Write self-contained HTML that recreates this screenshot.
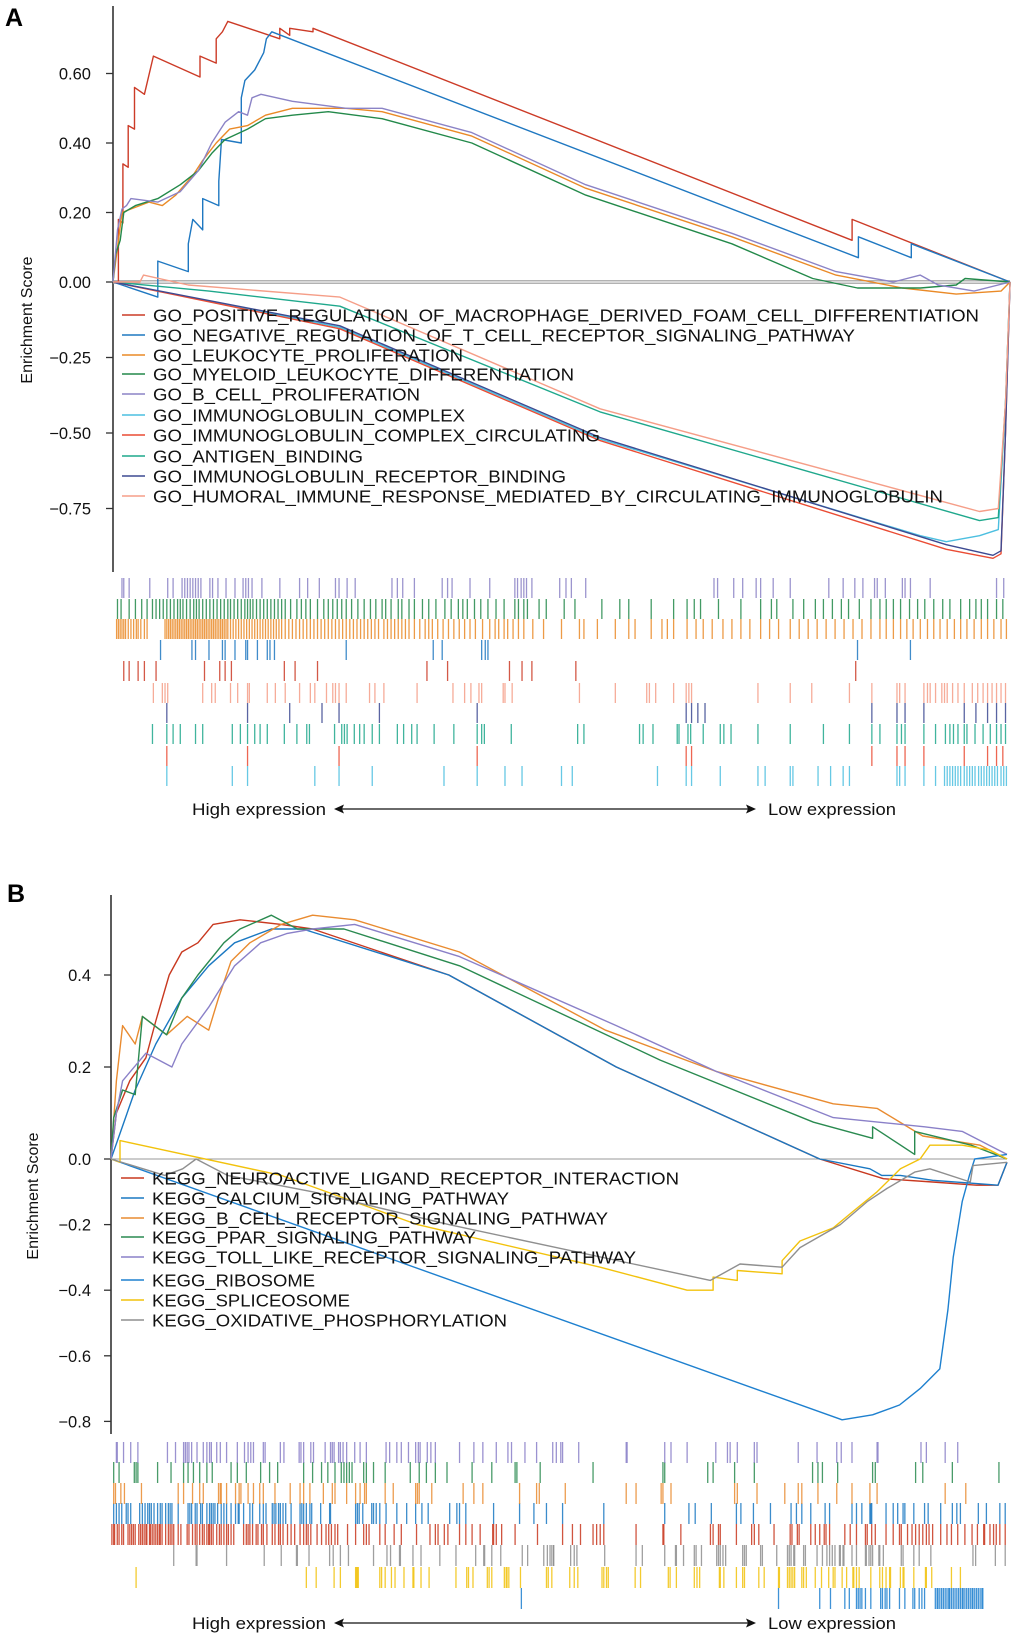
<!DOCTYPE html>
<html><head><meta charset="utf-8"><style>
html,body{margin:0;padding:0;background:#fff}
svg{display:block;font-family:"Liberation Sans",Arial,sans-serif}
</style></head><body>
<svg id="fig" width="1020" height="1643" viewBox="0 0 1020 1643" xmlns="http://www.w3.org/2000/svg">
<g id="panelA"></g>
<g id="panelB"></g>
</svg>
<script>
// ---------- Panel A data ----------
const ticksA = [0.6, 0.4, 0.2, 0, -0.25, -0.5, -0.75];
const tickLabelsA = ["0.60", "0.40", "0.20", "0.00", "\u22120.25", "\u22120.50", "\u22120.75"];
const namesA = ["GO_POSITIVE_REGULATION_OF_MACROPHAGE_DERIVED_FOAM_CELL_DIFFERENTIATION","GO_NEGATIVE_REGULATION_OF_T_CELL_RECEPTOR_SIGNALING_PATHWAY","GO_LEUKOCYTE_PROLIFERATION","GO_MYELOID_LEUKOCYTE_DIFFERENTIATION","GO_B_CELL_PROLIFERATION","GO_IMMUNOGLOBULIN_COMPLEX","GO_IMMUNOGLOBULIN_COMPLEX_CIRCULATING","GO_ANTIGEN_BINDING","GO_IMMUNOGLOBULIN_RECEPTOR_BINDING","GO_HUMORAL_IMMUNE_RESPONSE_MEDIATED_BY_CIRCULATING_IMMUNOGLOBULIN"];
const esFoam = [[0,0],[6,0],[6,0.18],[11,0.17],[11,0.34],[17,0.33],[17,0.45],[24,0.44],[24,0.56],[35,0.54],[45,0.65],[97,0.59],[97,0.65],[115,0.63],[115,0.70],[122,0.72],[128,0.75],[186,0.70],[186,0.73],[197,0.71],[197,0.73],[223,0.72],[223,0.73],[824,0.12],[824,0.18],[1000,0]];
const esNegT = [[0,0],[50,-0.05],[50,0.06],[84,0.03],[84,0.11],[89,0.18],[100,0.15],[100,0.24],[118,0.22],[118,0.29],[121,0.41],[143,0.40],[143,0.53],[147,0.58],[158,0.61],[168,0.66],[171,0.70],[177,0.72],[831,0.07],[831,0.13],[890,0.07],[890,0.11],[1000,0]];
const esLeuk = [[0,0],[5,0.1],[10,0.2],[20,0.21],[40,0.23],[55,0.22],[70,0.25],[90,0.31],[100,0.35],[115,0.40],[130,0.44],[150,0.45],[170,0.48],[200,0.50],[260,0.50],[300,0.49],[400,0.42],[527,0.27],[690,0.13],[806,0.02],[880,-0.02],[940,-0.04],[990,-0.03],[1000,0]];
const esMyel = [[0,0],[3,0.08],[8,0.12],[12,0.2],[25,0.22],[50,0.24],[75,0.28],[95,0.32],[110,0.37],[125,0.41],[150,0.44],[170,0.47],[200,0.48],[240,0.49],[300,0.47],[400,0.40],[527,0.25],[690,0.11],[780,0.01],[830,-0.02],[900,-0.02],[940,-0.01],[950,0.01],[1000,0]];
const esBcell = [[0,0],[5,0.15],[10,0.21],[15,0.22],[20,0.24],[50,0.23],[75,0.26],[95,0.32],[110,0.40],[125,0.46],[140,0.49],[150,0.48],[155,0.53],[165,0.54],[200,0.52],[260,0.50],[300,0.50],[400,0.43],[527,0.28],[690,0.14],[806,0.03],[870,0.0],[900,0.02],[920,-0.01],[960,-0.03],[1000,0]];
const esIgc = [[0,0],[253,-0.15],[543,-0.52],[900,-0.84],[929,-0.86],[966,-0.84],[987,-0.82],[995,-0.4],[1000,0]];
const esIgcc = [[0,0],[253,-0.155],[543,-0.525],[929,-0.885],[981,-0.915],[990,-0.9],[995,-0.5],[1000,0]];
const esAntigen = [[0,0],[107,-0.03],[253,-0.08],[543,-0.43],[966,-0.79],[987,-0.78],[995,-0.4],[1000,0]];
const esIgrb = [[0,0],[253,-0.145],[543,-0.515],[929,-0.87],[981,-0.905],[990,-0.89],[995,-0.5],[1000,0]];
const esHumoral = [[0,0],[30,0],[34,0.02],[84,-0.01],[253,-0.05],[543,-0.42],[966,-0.76],[987,-0.75],[995,-0.4],[1000,0]];
const hitsBcellA = [10,12,18,41,61,67,77,80,83,86,89,92,95,98,108,111,117,126,136,145,148,151,155,166,186,208,217,230,248,252,261,270,311,317,323,336,367,373,378,398,420,448,451,455,458,461,467,498,505,511,527,670,674,692,702,717,722,736,755,798,814,827,836,849,852,861,880,883,889,911,985,993];
const hitsMyelA = [5,9,18,25,32,38,44,48,52,56,60,64,68,72,75,78,82,86,90,93,96,100,104,108,112,116,120,124,128,131,135,139,143,147,150,153,156,160,164,168,172,176,180,184,188,192,198,205,210,215,220,228,235,240,245,250,255,260,266,273,280,287,293,300,304,310,318,322,330,336,345,352,360,370,377,385,390,395,403,410,418,427,436,448,452,458,462,475,483,503,515,545,565,575,600,625,640,648,655,675,700,722,734,740,758,770,783,792,802,812,820,832,845,855,862,870,878,888,897,905,915,925,933,945,955,962,968,975,985,992];
const hitsLeukA = [4,6,8,10,12,14,17,20,23,26,28,31,35,38,58,60,62,64,66,68,70,72,74,76,78,80,82,84,86,88,90,92,94,96,98,100,102,104,106,108,110,112,114,116,118,120,122,124,126,128,131,134,137,140,143,146,149,152,155,158,161,164,167,170,173,176,179,182,185,188,192,196,200,204,208,212,216,220,224,228,232,236,240,244,248,252,256,260,264,268,272,276,280,284,288,292,296,302,306,310,314,318,322,326,330,336,342,348,352,356,362,368,374,380,386,392,398,404,412,420,426,430,436,440,446,452,458,468,480,500,520,525,540,560,575,582,600,612,618,625,640,650,658,668,680,690,700,710,722,732,742,755,765,775,785,795,805,815,825,835,845,855,862,870,878,885,892,900,908,915,922,930,938,945,952,960,968,975,982,990,996];
const hitsNegTA = [53,88,92,107,122,125,136,148,150,161,172,175,180,260,357,367,411,415,418,830,889];
const hitsFoamA = [12,18,28,35,48,102,119,125,132,191,203,228,350,373,442,456,467,516,828];
const hitsHumoralA = [45,55,58,61,100,110,114,131,139,150,152,172,181,192,208,220,225,238,245,248,252,260,286,292,302,339,379,392,399,408,411,435,437,445,520,560,595,598,605,625,639,642,645,719,755,779,821,846,874,877,883,904,908,911,917,924,927,930,936,942,949,958,964,970,975,980,985,990,995];
const hitsIgrbA = [60,150,197,233,252,297,406,639,645,652,660,846,874,883,904,949,962,975,985,995];
const hitsAntigenA = [44,60,67,75,92,100,133,142,150,158,164,172,191,205,216,219,247,255,258,261,269,275,280,289,297,317,324,333,339,358,380,406,411,414,444,518,525,587,591,602,629,631,641,644,658,677,681,689,719,755,792,821,846,855,874,879,883,904,917,928,933,937,942,949,952,961,970,978,985,990,995];
const hitsIgccA = [60,150,252,406,639,645,846,874,883,904,949,975,985,992];
const hitsIgcA = [60,133,150,225,252,289,369,406,437,456,500,512,607,639,645,677,719,727,755,758,786,800,814,821,874,877,883,904,917,927,930,933,936,939,942,945,949,952,955,958,961,965,968,971,974,977,980,983,986,990,993,996];

// ---------- Panel B data ----------
const ticksB = [0.4, 0.2, 0, -0.2, -0.4, -0.6, -0.8];
const tickLabelsB = ["0.4", "0.2", "0.0", "\u22120.2", "\u22120.4", "\u22120.6", "\u22120.8"];
const namesB = ["KEGG_NEUROACTIVE_LIGAND_RECEPTOR_INTERACTION","KEGG_CALCIUM_SIGNALING_PATHWAY","KEGG_B_CELL_RECEPTOR_SIGNALING_PATHWAY","KEGG_PPAR_SIGNALING_PATHWAY","KEGG_TOLL_LIKE_RECEPTOR_SIGNALING_PATHWAY","KEGG_RIBOSOME","KEGG_SPLICEOSOME","KEGG_OXIDATIVE_PHOSPHORYLATION"];
const esNeuro = [[0,0],[6,0.1],[21,0.17],[39,0.22],[50,0.3],[65,0.4],[79,0.45],[97,0.47],[114,0.51],[144,0.52],[190,0.51],[225,0.50],[377,0.40],[564,0.2],[791,0],[862,-0.06],[917,-0.07],[966,-0.08],[990,-0.08],[1000,-0.01]];
const esCalcium = [[0,0],[9,0.05],[27,0.15],[50,0.25],[79,0.35],[109,0.42],[138,0.47],[179,0.50],[214,0.50],[377,0.40],[564,0.2],[791,0],[847,-0.03],[860,-0.05],[881,-0.05],[917,-0.065],[966,-0.075],[990,-0.08],[1000,-0.01]];
const esBcr = [[0,0],[6,0.17],[13,0.29],[27,0.25],[35,0.31],[62,0.27],[85,0.31],[109,0.28],[120,0.35],[134,0.43],[155,0.47],[190,0.51],[225,0.53],[272,0.52],[389,0.45],[552,0.28],[676,0.19],[806,0.12],[855,0.11],[906,0.05],[970,0.03],[1000,0]];
const esPpar = [[0,0],[3,0.09],[13,0.15],[27,0.14],[35,0.31],[62,0.27],[79,0.35],[97,0.40],[126,0.47],[144,0.50],[179,0.53],[208,0.50],[260,0.50],[389,0.42],[613,0.215],[784,0.08],[850,0.045],[850,0.07],[897,0.01],[897,0.06],[960,0.03],[1000,0]];
const esToll = [[0,0],[6,0.1],[13,0.17],[39,0.23],[68,0.2],[79,0.25],[109,0.33],[138,0.42],[167,0.47],[196,0.49],[225,0.50],[272,0.51],[389,0.44],[564,0.29],[676,0.19],[806,0.09],[908,0.07],[950,0.06],[980,0.03],[1000,0.01]];
const esRibo = [[0,0],[816,-0.795],[850,-0.78],[880,-0.75],[903,-0.70],[925,-0.64],[934,-0.46],[940,-0.3],[950,-0.13],[958,-0.05],[964,0],[1000,0.01]];
const esSplice = [[0,0],[10,-0.01],[10,0.04],[190,-0.05],[342,-0.2],[546,-0.33],[643,-0.40],[672,-0.40],[672,-0.36],[699,-0.37],[699,-0.34],[749,-0.35],[749,-0.31],[769,-0.25],[806,-0.21],[828,-0.16],[855,-0.10],[881,-0.03],[903,0],[914,0.03],[950,0.03],[980,0.02],[1000,0]];
const esOxphos = [[0,0],[60,-0.05],[80,-0.03],[95,0],[130,-0.05],[225,-0.1],[377,-0.2],[583,-0.32],[669,-0.37],[702,-0.32],[749,-0.33],[769,-0.27],[814,-0.20],[844,-0.13],[866,-0.09],[897,-0.04],[914,-0.03],[959,-0.07],[962,-0.02],[1000,-0.01]];
const hitsTollB = [6,7,14,22,30,63,72,81,83,85,87,90,96,103,107,110,112,118,122,129,141,149,153,156,159,170,172,189,193,210,212,215,223,226,239,245,247,249,254,256,259,263,272,278,285,307,311,319,324,332,340,343,345,353,357,362,389,405,415,430,443,447,462,475,493,497,502,504,522,575,576,618,625,643,675,688,691,699,718,721,767,788,810,815,827,855,856,904,910,931,945];
const hitsPparB = [3,9,26,28,30,52,67,81,86,92,99,107,113,134,141,151,167,177,186,215,225,235,242,250,257,260,263,266,269,282,285,293,306,334,344,352,362,375,403,425,451,453,479,538,616,618,666,672,696,718,783,789,794,811,850,853,898,906,939,991];
const hitsBcrB = [3,5,11,15,34,75,81,91,99,103,120,122,123,129,139,143,145,153,159,166,170,183,200,211,215,222,237,247,250,263,273,278,283,285,306,315,340,342,344,358,393,405,415,456,475,478,507,575,586,614,616,625,696,699,721,752,767,771,789,810,827,847,855,931,954];
const hitsCalciumB = [3,6,9,12,17,19,22,32,35,38,41,43,45,48,52,55,57,61,64,66,68,75,86,88,90,94,96,100,102,107,110,112,114,116,119,123,126,129,134,139,142,143,148,155,158,166,170,173,180,182,184,187,189,192,195,201,211,213,215,218,222,224,234,244,245,273,275,277,281,291,293,296,300,307,319,330,340,347,354,378,386,389,396,427,456,472,486,504,550,618,645,652,670,698,703,717,736,759,765,771,781,797,802,827,832,838,847,848,849,865,873,878,884,886,896,908,912,926,939,944,948,968,977,992,998];
const hitsNeuroB = [1,3,4,7,9,12,14,19,21,23,25,27,31,33,35,37,39,40,43,44,46,48,50,52,54,55,57,61,64,66,68,70,75,78,85,87,91,94,96,99,102,104,107,109,110,112,114,118,121,123,126,129,131,134,137,148,151,153,155,158,162,164,168,170,174,180,183,187,189,192,197,201,205,211,215,218,220,223,230,235,240,243,246,250,253,264,273,282,285,288,300,306,316,324,341,356,362,365,372,376,389,396,403,412,426,427,430,436,451,476,504,515,524,538,542,546,550,586,616,617,636,669,672,678,680,698,715,718,723,740,758,760,766,768,781,786,791,796,798,802,819,825,832,842,844,849,853,865,873,880,882,889,894,898,902,906,910,913,917,926,933,938,945,953,961,967,974,975,981,985,988,992,998];
const hitsOxphosB = [70,95,96,129,171,190,207,208,221,244,248,256,265,293,308,312,322,323,337,346,367,385,407,416,417,425,435,459,465,483,487,490,494,492,494,513,517,520,551,586,593,618,630,631,639,651,653,659,676,678,680,683,686,705,707,709,725,727,743,755,757,759,762,763,773,775,788,794,799,802,805,808,813,814,817,818,827,832,842,843,846,848,850,857,858,862,882,884,896,902,915,962,965,987,998];
const hitsSpliceB = [28,218,229,249,256,273,274,275,276,300,302,306,313,317,327,337,338,346,355,385,397,399,404,420,422,425,439,441,442,444,457,486,488,492,512,517,521,548,550,553,555,585,591,622,624,631,651,654,657,679,680,684,698,705,707,723,729,745,746,755,757,759,761,763,771,773,776,786,793,801,806,808,816,821,828,829,832,835,848,858,861,865,869,870,881,884,885,896,909,910,916,938,948];
const hitsRiboB = [458,745,791,803,819,824,832,834,836,838,842,848,859,861,864,866,869,880,886,895,897,902,905,908,920,922,923,925,927,929,931,933,935,936,938,940,942,944,946,948,950,951,953,955,957,959,961,962,964,966,968,970,972,973];

// ---------- helpers ----------
const NS = "http://www.w3.org/2000/svg";
function mk(parent, tag, attrs, txt) {
  const e = document.createElementNS(NS, tag);
  for (const k in attrs) e.setAttribute(k, attrs[k]);
  if (txt !== undefined) e.textContent = txt;
  parent.appendChild(e);
  return e;
}
function makeY(zeroY, posPx, posStep, negPx, negStep) {
  return v => v >= 0 ? zeroY - v / posStep * posPx : zeroY + (-v) / negStep * negPx;
}
function drawPanel(cfg) {
  const g = document.getElementById(cfg.id);
  const xS = r => cfg.x0 + r / 1000 * cfg.w;
  const yS = cfg.y;
  const L = mk(g, "text", {x: cfg.letterX, y: cfg.letterY, "font-size": 25, "font-weight": "bold", fill: "#000"}, cfg.letter);
  
  
  const ax = mk(g, "line", {x1: cfg.x0, x2: cfg.x0, y1: cfg.axTop, y2: cfg.axBot, stroke: "#333", "stroke-width": 1.6});
  
  
  cfg.ticks.forEach((t, i) => {
    const yy = yS(t);
    const tk = mk(g, "line", {x1: cfg.x0 - 7, x2: cfg.x0, y1: yy, y2: yy, stroke: "#333", "stroke-width": 1.3});
    
    
    const tl = mk(g, "text", {x: 91, y: yy + 6, "font-size": 16.5, "text-anchor": "end", fill: "#111"}, cfg.tickLabels[i]);
    
    
  });
  const yt = mk(g, "text", {x: 0, y: 0, "font-size": 16, "text-anchor": "middle", fill: "#111", transform: "translate(" + cfg.titleX + "," + cfg.titleY + ") rotate(-90)"}, "Enrichment Score");
  
  
  cfg.zeroLines.forEach(off => {
    const z = mk(g, "line", {x1: cfg.x0, x2: cfg.x0 + cfg.w, y1: yS(0) + off, y2: yS(0) + off, stroke: "#999", "stroke-width": 1.1});
    
    
  });
  cfg.series.forEach((s, i) => {
    const pts = s.es.map(p => xS(p[0]).toFixed(1) + "," + yS(p[1]).toFixed(1)).join(" ");
    const pl = mk(g, "polyline", {points: pts, fill: "none", stroke: s.color, "stroke-width": 1.4, "stroke-linejoin": "round"});
    
    
  });
  cfg.names.forEach((n, i) => {
    const yy = cfg.legY[i];
    const ll = mk(g, "line", {x1: cfg.legX - 31, x2: cfg.legX - 8, y1: yy, y2: yy, stroke: cfg.series[i].color, "stroke-width": 1.4});
    
    
    const tx = mk(g, "text", {x: cfg.legX, y: yy + 6.5, "font-size": 17.5, fill: "#111", textLength: cfg.legEnd[i] - cfg.legX, lengthAdjust: "spacingAndGlyphs"}, n);
    
    
  });
  cfg.series.forEach((s, i) => {
    const top = cfg.rugTop[i];
    s.hits.forEach(h => {
      const xx = xS(h);
      const r = mk(g, "line", {x1: xx, x2: xx, y1: top, y2: top + cfg.rugH, stroke: s.color, "stroke-width": 1.3, opacity: 0.85});
      
      
    });
  });
  const hi = mk(g, "text", {x: 192, y: cfg.exprY + 6, "font-size": 17, fill: "#111", textLength: 134, lengthAdjust: "spacingAndGlyphs"}, "High expression");
  
  
  const lo = mk(g, "text", {x: 768, y: cfg.exprY + 6, "font-size": 17, fill: "#111", textLength: 128, lengthAdjust: "spacingAndGlyphs"}, "Low expression");
  
  
  const ar = mk(g, "line", {x1: 340, x2: 750, y1: cfg.exprY, y2: cfg.exprY, stroke: "#111", "stroke-width": 1.3});
  
  
  const h1 = mk(g, "path", {d: "M334," + cfg.exprY + " l10,-4.5 l-2,4.5 l2,4.5 z", fill: "#111"});
  
  
  const h2 = mk(g, "path", {d: "M756," + cfg.exprY + " l-10,-4.5 l2,4.5 l-2,4.5 z", fill: "#111"});
  
  
}

drawPanel({
  id: "panelA", letter: "A", letterX: 5, letterY: 26,
  x0: 113, w: 897, axTop: 6, axBot: 572,
  y: makeY(282, 69.5, 0.2, 75.5, 0.25),
  ticks: ticksA, tickLabels: tickLabelsA,
  titleX: 32, titleY: 320, zeroLines: [-1.2, 1.2],
  names: namesA, legX: 153,
  legY: [315, 335, 355, 374, 394, 415, 435, 456, 476, 496],
  legEnd: [979, 855, 463, 574, 420, 465, 600, 363, 566, 943],
  rugTop: [661, 640, 619, 599, 578, 766, 746, 724, 703, 683], rugH: 20,
  exprY: 809,
  series: [
    {es: esFoam, color: "#cc3b27", hits: hitsFoamA},
    {es: esNegT, color: "#1f78c1", hits: hitsNegTA},
    {es: esLeuk, color: "#ea8a27", hits: hitsLeukA},
    {es: esMyel, color: "#23894a", hits: hitsMyelA},
    {es: esBcell, color: "#8b83c6", hits: hitsBcellA},
    {es: esIgc, color: "#4cbfe0", hits: hitsIgcA},
    {es: esIgcc, color: "#ea4c34", hits: hitsIgccA},
    {es: esAntigen, color: "#1fa88c", hits: hitsAntigenA},
    {es: esIgrb, color: "#3d4a92", hits: hitsIgrbA},
    {es: esHumoral, color: "#f59e88", hits: hitsHumoralA}
  ]
});
drawPanel({
  id: "panelB", letter: "B", letterX: 7, letterY: 902,
  x0: 111, w: 896, axTop: 895, axBot: 1434,
  y: makeY(1159, 92, 0.2, 65.6, 0.2),
  ticks: ticksB, tickLabels: tickLabelsB,
  titleX: 38, titleY: 1196, zeroLines: [0],
  names: namesB, legX: 152,
  legY: [1178, 1198, 1218, 1237, 1257, 1280, 1300, 1320],
  legEnd: [679, 509, 608, 476, 636, 315, 350, 507],
  rugTop: [1524, 1503, 1483, 1462, 1442, 1588, 1567, 1545], rugH: 21,
  exprY: 1623,
  series: [
    {es: esNeuro, color: "#c8381f", hits: hitsNeuroB},
    {es: esCalcium, color: "#1a78c2", hits: hitsCalciumB},
    {es: esBcr, color: "#e98b30", hits: hitsBcrB},
    {es: esPpar, color: "#2a8a50", hits: hitsPparB},
    {es: esToll, color: "#8a80c8", hits: hitsTollB},
    {es: esRibo, color: "#1e80cf", hits: hitsRiboB},
    {es: esSplice, color: "#f2c20c", hits: hitsSpliceB},
    {es: esOxphos, color: "#8f8f8f", hits: hitsOxphosB}
  ]
});
</script>
</body></html>
